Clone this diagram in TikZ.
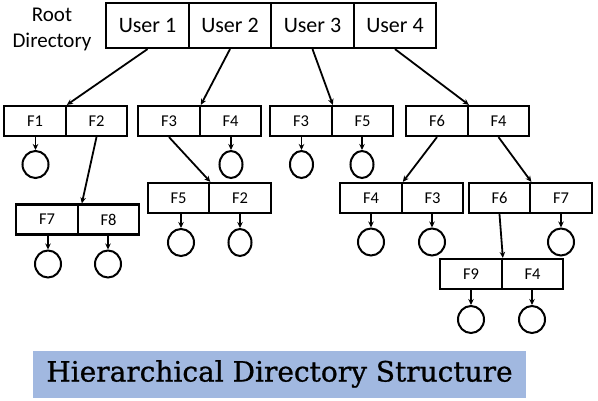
\documentclass[tikz,border=0pt]{standalone}
\usepackage{fontspec}
\setmainfont{Carlito}
\newfontfamily\titlefont[FakeBold=0.8]{DejaVu Serif}
\usetikzlibrary{arrows.meta,shapes.geometric}
\definecolor{titlebg}{RGB}{161,184,224}
\tikzset{
  ucell/.style={draw, line width=2.2pt, minimum width=82.5pt, minimum height=45pt, inner sep=0pt, font=\fontsize{22}{24}\selectfont},
  fcell/.style={draw, line width=2.2pt, minimum width=61.5pt, minimum height=30pt, inner sep=0pt, font=\fontsize{16.5}{18}\selectfont},
  leaf/.style={draw, ellipse, line width=2pt, minimum width=26pt, minimum height=27pt, inner sep=0pt},
  nleaf/.style={leaf, minimum width=23pt},
  arr/.style={line width=1.8pt, -{Stealth[length=6pt,width=5.5pt]}},
  rootlbl/.style={anchor=base, font=\fontsize{21}{24}\selectfont, inner sep=0pt}
}
\begin{document}
\begin{tikzpicture}[x=1pt,y=-1pt]
\useasboundingbox (0,0) rectangle (598,401);
% root
\node[rootlbl] (r1) at (52,22) {Root};
\node[rootlbl] (r2) at (52,48) {Directory};
\node[ucell] (u1) at (147.5,25.5) {User 1};
\node[ucell] (u2) at (230,25.5) {User 2};
\node[ucell] (u3) at (312.5,25.5) {User 3};
\node[ucell] (u4) at (395,25.5) {User 4};
% row 1
\node[fcell] (a1) at (35,121) {F1};
\node[fcell] (a2) at (96.5,121) {F2};
\node[fcell] (b1) at (169,121) {F3};
\node[fcell] (b2) at (230.5,121) {F4};
\node[fcell] (c1) at (301,121) {F3};
\node[fcell] (c2) at (362.5,121) {F5};
\node[fcell] (d1) at (437,121) {F6};
\node[fcell] (d2) at (498.5,121) {F4};
% row 2
\node[fcell] (e1) at (47,219.5) {F7};
\node[fcell] (e2) at (108.5,219.5) {F8};
\node[fcell] (g1) at (178.5,198) {F5};
\node[fcell] (g2) at (240,198) {F2};
\node[fcell] (h1) at (371,198) {F4};
\node[fcell] (h2) at (432.5,198) {F3};
\node[fcell] (k1) at (499.5,198) {F6};
\node[fcell] (k2) at (561,198) {F7};
% row 3
\node[fcell] (m1) at (471,274) {F9};
\node[fcell] (m2) at (532.5,274) {F4};
% leaves
\node[leaf] (la1) at (35.5,164.5) {};
\node[nleaf] (lb2) at (231,164.5) {};
\node[nleaf] (lc1) at (301.5,164.5) {};
\node[nleaf] (lc2) at (362,164.5) {};
\node[leaf] (le1) at (48,264) {};
\node[leaf] (le2) at (108,264) {};
\node[leaf] (lg1) at (181,242.5) {};
\node[nleaf] (lg2) at (240,242.5) {};
\node[leaf] (lh1) at (371,242) {};
\node[leaf] (lh2) at (432,242) {};
\node[leaf] (lk2) at (561,242) {};
\node[leaf] (lm1) at (471,319.5) {};
\node[leaf] (lm2) at (532,319.5) {};
% tree connectors
\draw[arr] (u1.south) -- (a1.north east);
\draw[arr] (u2.south) -- (b1.north east);
\draw[arr] (u3.south) -- (c1.north east);
\draw[arr] (u4.south) -- (d1.north east);
\draw[arr] (a2.south) -- ([xshift=3pt]e1.north east);
\draw[arr] (b1.south) -- (g1.north east);
\draw[arr] (d1.south) -- (h1.north east);
\draw[arr] (d2.south) -- (k1.north east);
\draw[arr] (k1.south) -- (m1.north east);
% leaf connectors
\foreach \c/\l in {a1/la1,b2/lb2,c1/lc1,c2/lc2,e1/le1,e2/le2,g1/lg1,g2/lg2,h1/lh1,h2/lh2,k2/lk2,m1/lm1,m2/lm2}
  \draw[arr] (\l.north |- \c.south) -- (\l.north);
% title
\node[fill=titlebg, minimum width=493pt, minimum height=47pt, inner sep=0pt] (t) at (279.5,374.5) {};
\node[font=\titlefont\fontsize{28}{30}\selectfont, inner sep=0pt] (tt) at (279.5,374) {Hierarchical Directory Structure};
\end{tikzpicture}
\end{document}
